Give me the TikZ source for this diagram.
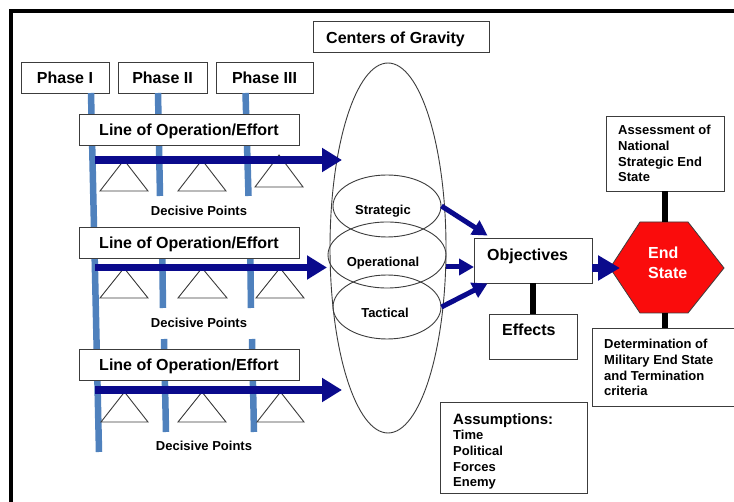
\documentclass[tikz,border=0pt]{standalone}
\usepackage{fontspec}
\setmainfont{Liberation Sans}
\usetikzlibrary{shapes.geometric,arrows.meta}
\definecolor{navyc}{RGB}{10,10,140}
\definecolor{barblue}{RGB}{79,129,189}
\definecolor{esred}{RGB}{250,12,12}
\definecolor{edge}{RGB}{60,60,60}
\begin{document}
\begin{tikzpicture}[x=1pt,y=-1pt,
  box/.style={draw=edge, line width=0.9pt, fill=white, rectangle, inner sep=0pt},
  big/.style={font=\bfseries\fontsize{16}{19}\selectfont, text height=11.5pt, text depth=0pt},
  bigtxt/.style={font=\bfseries\fontsize{16}{19}\selectfont, inner sep=0pt},
  smalltxt/.style={font=\bfseries\fontsize{13}{15.7}\selectfont, inner sep=0pt, align=left},
  oval/.style={ellipse, draw=edge, line width=0.9pt, inner sep=0pt},
  phasebar/.style={draw=barblue, line width=6.5pt},
  loa/.style={draw=navyc, line width=7.5pt, -{Triangle[length=20pt,width=23pt]}},
  cgarrow/.style={draw=navyc, line width=5pt, -{Triangle[length=15pt,width=16pt]}},
  endarrow/.style={draw=navyc, line width=8pt, -{Triangle[length=22pt,width=24pt]}},
  tri/.style={draw=edge, line width=0.9pt, line join=miter},
  stem/.style={draw=black, line width=6.5pt},
]
\useasboundingbox (0,0) rectangle (734,502);
\fill[white] (0,0) rectangle (734,502);
\clip (0,0) rectangle (734,502);
% frame
\draw[line width=4pt] (11,502) -- (11,11) -- (734,11);

% phase boxes
\node[box,big,minimum width=88pt,minimum height=31pt] (p1) at (65,77.5) {Phase I};
\node[box,big,minimum width=89pt,minimum height=31pt] (p2) at (162.5,77.5) {Phase II};
\node[box,big,minimum width=97pt,minimum height=31pt] (p3) at (264.5,77.5) {Phase III};

% phase bars
\draw[phasebar] (91,93) -- (99,452);
\draw[phasebar] (158,93) -- (160,196);
\draw[phasebar] (162,235) -- (163,308);
\draw[phasebar] (164,339) -- (166,432);
\draw[phasebar] (245.5,93) -- (248.5,196);
\draw[phasebar] (250,235) -- (251,308);
\draw[phasebar] (252,339) -- (254,432);

% lines of operation
\node[box,big,minimum width=220pt,minimum height=31pt] (loe1) at (189,129.5) {Line of Operation/Effort};
\node[box,big,minimum width=220pt,minimum height=31pt] (loe2) at (189,242.5) {Line of Operation/Effort};
\node[box,big,minimum width=220pt,minimum height=31pt] (loe3) at (189,364.5) {Line of Operation/Effort};

% decisive point triangles
\draw[tri] (100,191) -- (124,160) -- (148,191) -- cycle;
\draw[tri] (178,191) -- (202,160) -- (226,191) -- cycle;
\draw[tri] (255,187) -- (279,155) -- (303,187) -- cycle;
\draw[tri] (100,298) -- (124,268) -- (148,298) -- cycle;
\draw[tri] (178,298) -- (202,268) -- (227,298) -- cycle;
\draw[tri] (256,298) -- (280,268) -- (304,298) -- cycle;
\draw[tri] (101,422) -- (124.5,392) -- (148,422) -- cycle;
\draw[tri] (178,422) -- (202,392) -- (226,422) -- cycle;
\draw[tri] (257,422) -- (280.5,392) -- (304,422) -- cycle;

% centers of gravity
\node[box,minimum width=176pt,minimum height=31pt] (cogbox) at (401,36.5) {};
\node[bigtxt,anchor=base west] (cogtxt) at (326,43.7) {Centers of Gravity};
\node[oval,minimum width=116pt,minimum height=370pt] (cog) at (388,248) {};
\node[oval,minimum width=108pt,minimum height=62pt] (strat) at (387,206) {};
\node[oval,minimum width=118pt,minimum height=66pt] (oper) at (387,255) {};
\node[oval,minimum width=108pt,minimum height=64pt] (tact) at (387,307) {};
\node[smalltxt,anchor=base] (strattxt) at (383,214.7) {Strategic};
\node[smalltxt,anchor=base] (opertxt) at (383,266.7) {Operational};
\node[smalltxt,anchor=base] (tacttxt) at (385,317.7) {Tactical};

% LOE arrows
\coordinate (a1s) at (95,160);   \coordinate (a1e) at (342,160);
\coordinate (a2s) at (95,267.5); \coordinate (a2e) at (327,267.5);
\coordinate (a3s) at (95,390);   \coordinate (a3e) at (342,390);
\draw[loa] (a1s) -- (a1e);
\draw[loa] (a2s) -- (a2e);
\draw[loa] (a3s) -- (a3e);

\node[smalltxt,anchor=base] (dp1) at (199,215.65) {Decisive Points};
\node[smalltxt,anchor=base] (dp2) at (199,327.65) {Decisive Points};
\node[smalltxt,anchor=base] (dp3) at (204,450.65) {Decisive Points};

% objectives and effects
\node[box,minimum width=118pt,minimum height=45pt] (obj) at (533,260.5) {};
\node[bigtxt,anchor=base west] (objtxt) at (487,260.7) {Objectives};
\node[box,minimum width=88pt,minimum height=45pt] (eff) at (533,336.5) {};
\node[bigtxt,anchor=base west] (efftxt) at (502,335.7) {Effects};
\draw[stem] (obj.south) -- (eff.north);

\coordinate (oin) at (474,267);
\draw[cgarrow] (strat.east) -- ([xshift=14pt,yshift=2pt]obj.north west);
\draw[cgarrow] (oper.east |- oin) -- (oin);
\draw[cgarrow] (tact.east) -- ([xshift=14pt]obj.south west);

% end state
\coordinate (esTop) at (665,222);
\coordinate (esBot) at (665,313);
\coordinate (esW) at (620,268);
\draw[draw=edge, line width=0.8pt, fill=esred] (610,268) -- (640,222) -- (688,222) -- (724,268) -- (688,313) -- (640,313) -- cycle;
\node[bigtxt, text=white, align=left, anchor=north west, font=\bfseries\fontsize{16}{20}\selectfont] (es) at (648,247.2) {End\\State};
\draw[endarrow] (obj.east |- esW) -- (esW);

\node[box,minimum width=118pt,minimum height=75pt] (assess) at (665,153.5) {};
\node[smalltxt,anchor=north west] (assesstxt) at (618,125) {Assessment of\\National\\Strategic End\\State};
\draw[stem] (assess.south) -- (esTop);

\node[box,minimum width=148pt,minimum height=78pt] (det) at (666,367) {};
\node[smalltxt,anchor=north west] (dettxt) at (604,339) {Determination of\\Military End State\\and Termination\\criteria};
\draw[stem] (esBot) -- (esBot |- det.north);

% assumptions
\node[box,minimum width=147pt,minimum height=91pt] (assum) at (513.5,447.5) {};
\node[bigtxt,anchor=north west,font=\bfseries\fontsize{15}{18}\selectfont] (assumhead) at (453,413.4) {Assumptions:};
\node[smalltxt,anchor=north west] (assumlist) at (453,430.2) {Time\\Political\\Forces\\Enemy};
\end{tikzpicture}
\end{document}
